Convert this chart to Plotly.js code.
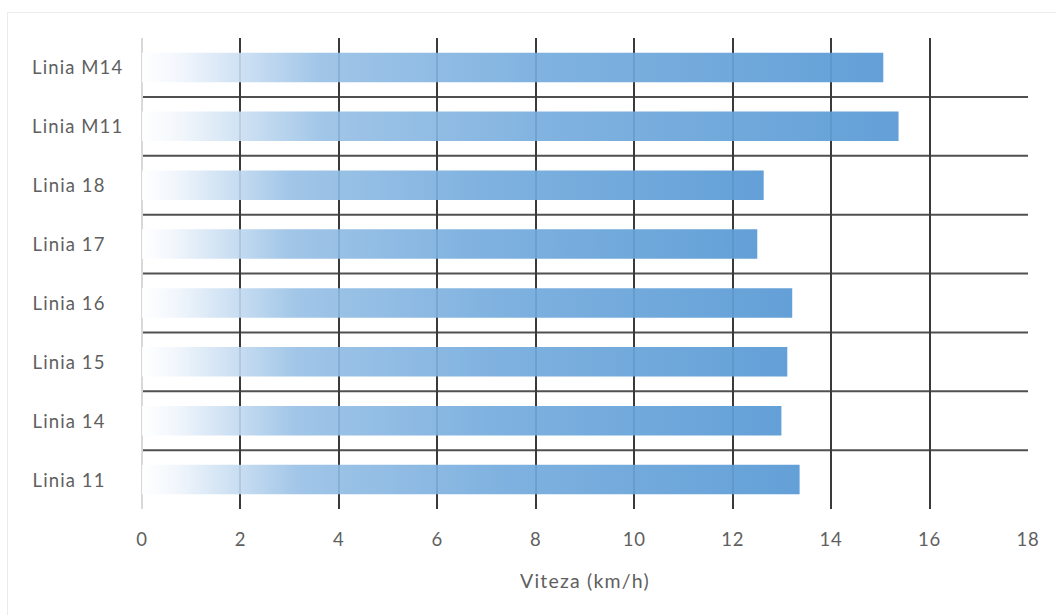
<!DOCTYPE html>
<html>
<head>
<meta charset="utf-8">
<script src="https://cdn.plot.ly/plotly-3.0.1.min.js"></script>
<style>
  html, body { margin: 0; padding: 0; background: #fff; }
  #wrap { position: relative; width: 1056px; height: 615px; overflow: hidden; }
  #frame { position: absolute; left: 7px; top: 12px; width: 1100px; height: 700px;
           border-left: 1px solid #ebebeb; border-top: 1px solid #ebebeb; pointer-events: none; }
  #chart { position: absolute; left: 0; top: 0; width: 1056px; height: 615px; }
  #chart .main-svg text.xtitle { letter-spacing: 1.2px; }
  #chart .main-svg text.annotation-text { letter-spacing: 1.1px; }
  #chart .main-svg .xtick text { letter-spacing: 0.8px; }
</style>
</head>
<body>
<div id="wrap">
  <div id="chart"></div>
  <div id="frame"></div>
</div>
<script>
// Categories listed bottom to top (as on the axis)
const categories = ["Linia 11", "Linia 14", "Linia 15", "Linia 16", "Linia 17", "Linia 18", "Linia M11", "Linia M14"];
const speeds = [13.36, 12.99, 13.11, 13.21, 12.5, 12.63, 15.37, 15.06];
const xTicks = [0, 2, 4, 6, 8, 10, 12, 14, 16, 18];
const xTitle = "Viteza (km/h)";

const labelFont = { family: "Lato, 'Open Sans', sans-serif", size: 18.5, color: "#5f5f5f" };
const titleFont = { family: "Lato, 'Open Sans', sans-serif", size: 19.5, color: "#5f5f5f" };

const trace = {
  type: "bar",
  orientation: "h",
  y: categories,
  x: speeds,
  width: 0.5,
  marker: { color: "#5b9bd5", line: { width: 0 } },
  hoverinfo: "x+y"
};

// separators between categories, computed from the category list
const shapes = [];
for (let i = 0; i < categories.length - 1; i++) {
  shapes.push({
    type: "line", layer: "below",
    xref: "x", yref: "y",
    x0: xTicks[0], x1: xTicks[xTicks.length - 1],
    y0: i + 0.5, y1: i + 0.5,
    line: { color: "#505050", width: 2 }
  });
}

// left-aligned category labels
const annotations = categories.map(c => ({
  xref: "paper", yref: "y", x: -0.121, y: c,
  xanchor: "left", yanchor: "middle",
  text: c, showarrow: false, font: labelFont
}));

const layout = {
  width: 1056, height: 615,
  margin: { l: 142, r: 28, t: 37.5, b: 105.5 },
  paper_bgcolor: "rgba(0,0,0,0)",
  plot_bgcolor: "rgba(0,0,0,0)",
  showlegend: false,
  bargap: 0.5,
  xaxis: {
    range: [xTicks[0], xTicks[xTicks.length - 1]],
    tickvals: xTicks,
    ticktext: xTicks.map(String),
    showgrid: true, gridcolor: "#3a3a3a", gridwidth: 2,
    zeroline: true, zerolinecolor: "#d9d9d9", zerolinewidth: 2,
    showline: false, ticks: "",
    ticklabelstandoff: 17,
    tickfont: labelFont,
    title: { text: xTitle, font: titleFont, standoff: 25 },
    fixedrange: true
  },
  yaxis: {
    type: "category",
    categoryorder: "array", categoryarray: categories,
    range: [-0.5, categories.length - 0.5],
    showgrid: false, zeroline: false, showline: false,
    showticklabels: false, ticks: "",
    fixedrange: true
  },
  shapes: shapes,
  annotations: annotations
};

function applyGradient(gd) {
  const svg = gd.querySelector(".main-svg");
  if (!svg) return;
  let defs = svg.querySelector("defs");
  if (!defs) {
    defs = document.createElementNS("http://www.w3.org/2000/svg", "defs");
    svg.insertBefore(defs, svg.firstChild);
  }
  if (!defs.querySelector("#barGrad")) {
    const ns = "http://www.w3.org/2000/svg";
    const g = document.createElementNS(ns, "linearGradient");
    g.setAttribute("id", "barGrad");
    g.setAttribute("x1", "0"); g.setAttribute("y1", "0");
    g.setAttribute("x2", "1"); g.setAttribute("y2", "0");
    const stops = [
      [0, "#ffffff", 0.9],
      [0.05, "#f1f6fc", 0.9],
      [0.24, "#96bfe5", 0.9],
      [0.55, "#74abdd", 0.92],
      [1, "#5b9bd5", 0.95]
    ];
    stops.forEach(s => {
      const st = document.createElementNS(ns, "stop");
      st.setAttribute("offset", s[0]);
      st.setAttribute("stop-color", s[1]);
      st.setAttribute("stop-opacity", s[2]);
      g.appendChild(st);
    });
    defs.appendChild(g);
  }
  gd.querySelectorAll(".barlayer .point path").forEach(p => {
    p.style.fill = "url(#barGrad)";
    p.style.fillOpacity = "1";
  });
}

const gd = document.getElementById("chart");
Plotly.newPlot(gd, [trace], layout, { displayModeBar: false, staticPlot: true }).then(() => {
  applyGradient(gd);
  gd.on("plotly_afterplot", () => applyGradient(gd));
});
</script>
</body>
</html>
